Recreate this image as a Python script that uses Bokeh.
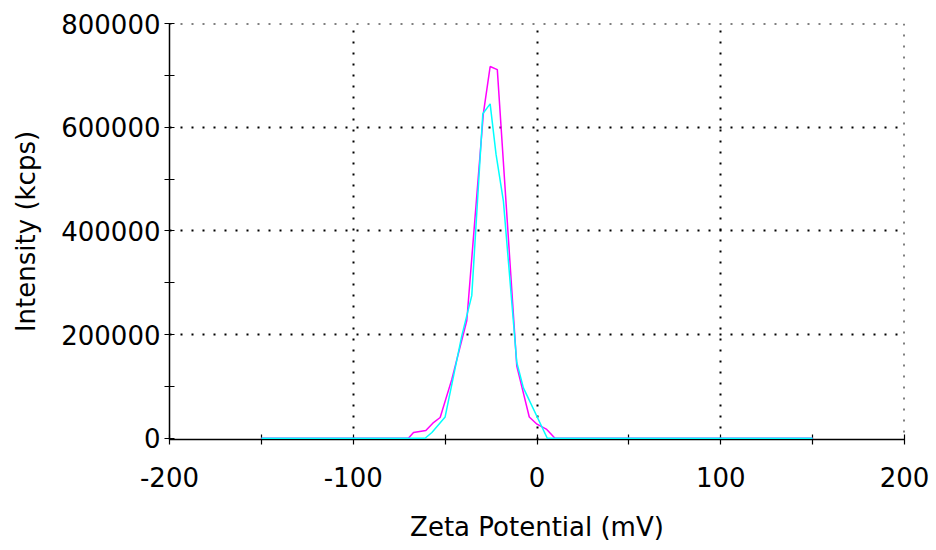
from bokeh.plotting import figure
from bokeh.models import FixedTicker, Range1d, BasicTickFormatter, Span
from bokeh.embed import file_html
from bokeh.resources import INLINE

# Zeta potential (mV) and intensity (kcps) for two runs
zeta_run1 = [-150, -70, -67.2, -60.5, -56.7, -52.7, -46.4, -38.2, -29.2, -25.5,
             -21.6, -11.0, -4.2, 0.0, 5.3, 9.8, 150]
intensity_run1 = [0, 0, 11000, 15000, 29000, 40000, 113000, 227000, 626000, 717000,
                  711000, 139000, 41000, 27000, 17000, 0, 0]

zeta_run2 = [-150, -60.9, -57.2, -50.0, -40.9, -35.5, -29.5, -25.5, -22.3, -18.3,
             -11.0, -7.4, 5.6, 150]
intensity_run2 = [0, 0, 11000, 41000, 198000, 275000, 626000, 645000, 548000, 458000,
                  146000, 97000, 0, 0]

x_major = [-200, -100, 0, 100, 200]
x_minor = [-150, -50, 50, 150]
x_labels = {-200: "-200", -100: "-100", 0: "0", 100: "100", 200: "200"}
y_major = [0, 200000, 400000, 600000, 800000]
y_minor = [100000, 300000, 500000, 700000]

FONT = "DejaVu Sans"

p = figure(width=936, height=550, x_range=Range1d(-200, 200), y_range=Range1d(-2500, 800000),
           output_backend="svg", toolbar_location=None,
           min_border_left=169, min_border_right=32, min_border_top=23, min_border_bottom=111)
p.outline_line_color = None
p.background_fill_color = "white"
p.border_fill_color = "white"

p.xaxis.ticker = FixedTicker(ticks=x_major, minor_ticks=x_minor)
p.yaxis.ticker = FixedTicker(ticks=y_major, minor_ticks=y_minor)
p.xaxis.major_label_overrides = x_labels
p.yaxis.formatter = BasicTickFormatter(use_scientific=False)

for ax in (p.xaxis, p.yaxis):
    ax.axis_line_color = "black"
    ax.axis_line_width = 1.5
    ax.major_tick_in = 5
    ax.major_tick_out = 5
    ax.minor_tick_in = 5
    ax.minor_tick_out = 5
    ax.major_tick_line_color = "black"
    ax.minor_tick_line_color = "black"
    ax.major_tick_line_width = 1.2
    ax.minor_tick_line_width = 1.2
    ax.major_label_text_font = FONT
    ax.major_label_text_font_size = "26px"
    ax.major_label_text_color = "black"
    ax.axis_label_text_font = FONT
    ax.axis_label_text_font_size = "26px"
    ax.axis_label_text_font_style = "normal"
    ax.axis_label_text_color = "black"

p.xaxis.axis_label = "Zeta Potential (mV)"
p.yaxis.axis_label = "Intensity (kcps)"
p.xaxis.major_label_standoff = 22
p.yaxis.major_label_standoff = 4
p.xaxis.axis_label_standoff = 22
p.yaxis.axis_label_standoff = 17

p.xgrid.ticker = FixedTicker(ticks=x_major[1:])
p.ygrid.ticker = FixedTicker(ticks=y_major[1:])
for g in (p.xgrid, p.ygrid):
    g.grid_line_color = "black"
    g.grid_line_width = 2
    g.grid_line_dash = "2 9"

p.add_layout(Span(location=x_major[-1], dimension="height", line_color="black",
                  line_width=2, line_dash="2 9", level="underlay"))
p.add_layout(Span(location=y_major[-1], dimension="width", line_color="black",
                  line_width=2, line_dash="2 9", level="underlay"))

r1 = p.line(zeta_run1, intensity_run1, line_color="#ff00ff", line_width=1.5)
r2 = p.line(zeta_run2, intensity_run2, line_color="#00ffff", line_width=1.5)
r1.level = "overlay"
r2.level = "overlay"

open("out.html", "w").write(file_html(p, INLINE))
